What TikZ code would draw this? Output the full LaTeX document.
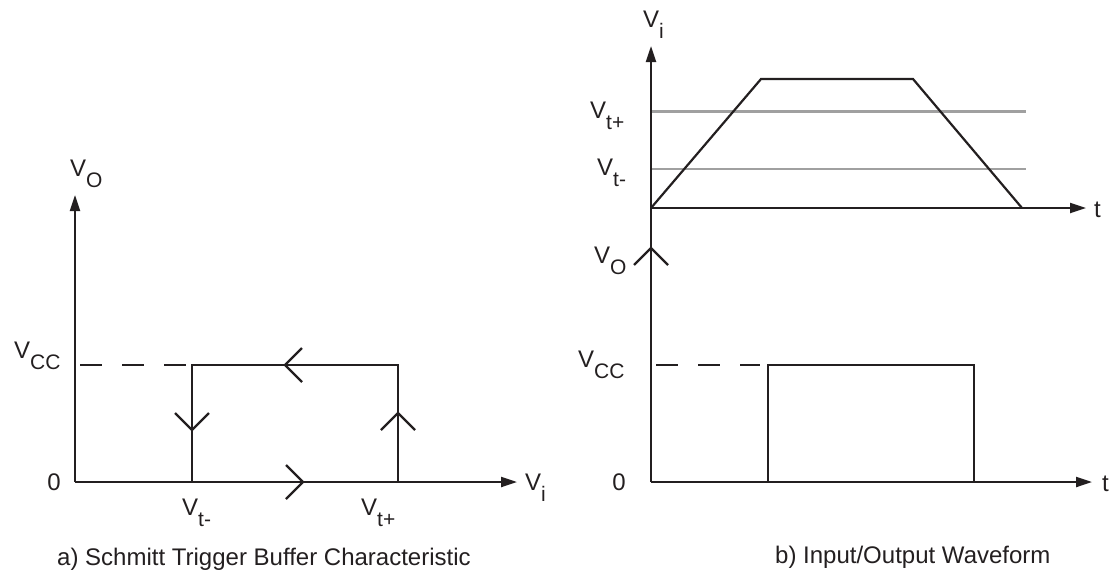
\documentclass[tikz,border=0pt]{standalone}
\usepackage{fontspec}
\setmainfont{Liberation Sans}
\usetikzlibrary{arrows.meta}
\definecolor{ink}{RGB}{35,31,32}
\definecolor{thrgray}{RGB}{160,160,160}
\newcommand\lsub[1]{\raisebox{-11pt}{\fontsize{21}{21}\selectfont #1}}
\tikzset{
  ln/.style={line width=2.2pt, draw=ink},
  axis/.style={ln, -{Triangle[length=16pt,width=10pt]}},
  thr/.style={line width=2.2pt, draw=thrgray},
  dsh/.style={ln, dash pattern=on 22pt off 20pt},
  lab/.style={anchor=base west, inner sep=0pt, text=ink, font=\fontsize{24}{24}\selectfont},
  chev/.pic={\draw[ln] (-17,-17) -- (0,0) -- (-17,17);},
}
\begin{document}
\begin{tikzpicture}[x=1pt,y=-1pt]
\useasboundingbox (0,0) rectangle (1115,574);
% ---------- left panel ----------
\coordinate (LO) at (75,482);
\coordinate (LYtop) at (75,195);
\coordinate (LXend) at (517,482);
\coordinate (LA) at (192,482);
\coordinate (LB) at (192,365);
\coordinate (LC) at (398,365);
\coordinate (LD) at (398,482);
\coordinate (LDs) at (80,365);
\coordinate (LDe) at (186,365);
\draw[axis] (LO) -- (LYtop);
\draw[axis] (LO) -- (LXend);
\draw[ln] (LA) -- (LB) -- (LC) -- (LD);
\draw[dsh] (LDs) -- (LDe);
\pic[rotate=180] at (285,365) {chev};
\pic[rotate=-90] at (192,430) {chev};
\pic[rotate=90] at (398,413) {chev};
\pic at (303,482) {chev};
\node[lab] (lvo) at (70,176) {V\lsub{O}};
\node[lab] (lvcc) at (14,358) {V\lsub{CC}};
\node[lab,anchor=base] (lzero) at (54,490) {0};
\node[lab] (lvi) at (525,490) {V\lsub{i}};
\node[lab] (lvtm) at (182,515) {V\lsub{t-}};
\node[lab] (lvtp) at (361,515) {V\lsub{t+}};
\node[lab] (capa) at (57,565) {a) Schmitt Trigger Buffer Characteristic};
% ---------- right panel ----------
\coordinate (RB) at (651,482);
\coordinate (RTop) at (651,46);
\coordinate (RU) at (651,208);
\coordinate (RUend) at (1086,208);
\coordinate (RLend) at (1092,482);
\coordinate (T1) at (761,79);
\coordinate (T2) at (913,79);
\coordinate (T3) at (1022,208);
\coordinate (G1s) at (651,111.5);
\coordinate (G1e) at (1026,111.5);
\coordinate (G2s) at (651,169.3);
\coordinate (G2e) at (1026,169.3);
\coordinate (P1) at (768,482);
\coordinate (P2) at (768,365);
\coordinate (P3) at (974,365);
\coordinate (P4) at (974,482);
\coordinate (RDs) at (656,365);
\coordinate (RDe) at (760,365);
\draw[thr] (G1s) -- (G1e);
\draw[thr] (G2s) -- (G2e);
\draw[axis] (RB) -- (RTop);
\draw[axis] (RU) -- (RUend);
\draw[axis] (RB) -- (RLend);
\draw[ln, line join=miter] (RU) -- (T1) -- (T2) -- (T3);
\draw[ln] (P1) -- (P2) -- (P3) -- (P4);
\draw[dsh] (RDs) -- (RDe);
\pic[rotate=90] at (651,248) {chev};
\node[lab] (rvi) at (643,27) {V\lsub{i}};
\node[lab] (rvtp) at (590,118) {V\lsub{t+}};
\node[lab] (rvtm) at (597,175) {V\lsub{t-}};
\node[lab] (rt1) at (1094,217) {t};
\node[lab] (rvo) at (594,263) {V\lsub{O}};
\node[lab] (rvcc) at (578,367) {V\lsub{CC}};
\node[lab,anchor=base] (rzero) at (619,490) {0};
\node[lab] (rt2) at (1102,491) {t};
\node[lab] (capb) at (775,563) {b) Input/Output Waveform};
\end{tikzpicture}
\end{document}
